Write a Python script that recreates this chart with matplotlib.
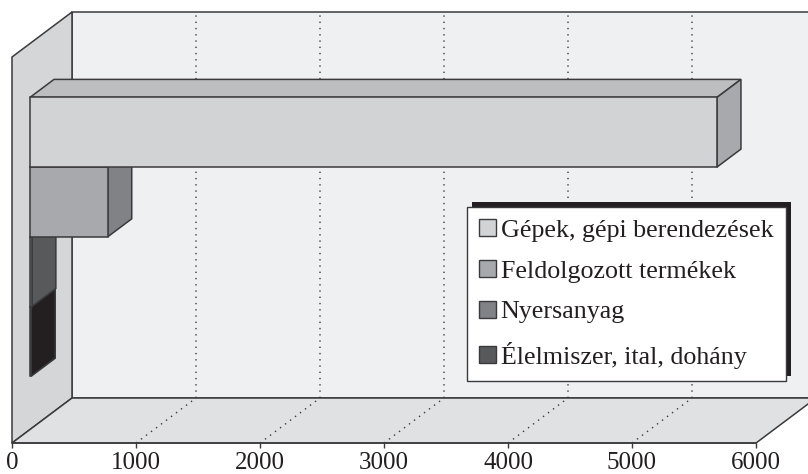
# Hungarian export structure, pseudo 3D bar chart

import matplotlib.pyplot as plt
from matplotlib.patches import Patch, Polygon

categories = [
    "Gépek, gépi berendezések",
    "Feldolgozott termékek",
    "Nyersanyag",
    "Élelmiszer, ital, dohány",
]
values = [5540, 627, 15, 10]
ticks = [0, 1000, 2000, 3000, 4000, 5000, 6000]

front_colors = ["#d1d3d4", "#a7a9ac", "#808285", "#58595b"]
side_colors = ["#a7a9ac", "#808285", "#58595b", "#231f20"]
top_colors = ["#bcbec0", "#808285", "#58595b", "#231f20"]

LINE = "#3a3a3c"
# depth of the box, in data units
DX = 60 / 0.124
DY = 45 / 69.7
FLOOR = 4.265
TOP = -1.273
BAR_FRONT = 0.3
BAR_BACK = 0.7


def project(x, y, d):
    return (x + d * DX, y - d * DY)


plt.rcParams["font.family"] = ["Liberation Serif", "DejaVu Serif"]

fig = plt.figure(figsize=(8.08, 4.74), dpi=100)
ax = fig.add_axes([0, 0, 1, 1])
ax.set_xlim(-12 / 0.124, (808 - 12) / 0.124)
ax.set_ylim((474 - 145.75) / 69.7, -145.75 / 69.7)

# Walls and floor
xmax = ticks[-1]
walls = [
    ([(0, TOP, 1), (xmax, TOP, 1), (xmax, FLOOR, 1), (0, FLOOR, 1)], "#eff0f2"),
    ([(0, TOP, 0), (0, FLOOR, 0), (0, FLOOR, 1), (0, TOP, 1)], "#d5d6d8"),
    ([(0, FLOOR, 0), (xmax, FLOOR, 0), (xmax, FLOOR, 1), (0, FLOOR, 1)], "#e0e1e3"),
]
for corners, color in walls:
    ax.add_patch(
        Polygon(
            [project(*c) for c in corners],
            facecolor=color,
            edgecolor=LINE,
            linewidth=1.1,
            zorder=1,
        )
    )

# Grid
for t in ticks[1:-1]:
    pts = [project(t, FLOOR, 0), project(t, FLOOR, 1), project(t, TOP, 1)]
    ax.plot(
        [p[0] for p in pts],
        [p[1] for p in pts],
        color=LINE,
        linewidth=1.0,
        linestyle=(0, (1, 3.5)),
        zorder=2,
    )

# Bars, lowest first so that the upper ones cover their top faces
for i in reversed(range(len(values))):
    v = values[i]
    x0, y0 = project(0, i, BAR_FRONT)
    ax.barh(
        y0,
        v,
        left=x0,
        height=1,
        color=front_colors[i],
        edgecolor=LINE,
        linewidth=1.1,
        zorder=5 + (3 - i) * 2,
    )
    top = [
        project(0, i - 0.5, BAR_FRONT),
        project(v, i - 0.5, BAR_FRONT),
        project(v, i - 0.5, BAR_BACK),
        project(0, i - 0.5, BAR_BACK),
    ]
    side = [
        project(v, i - 0.5, BAR_FRONT),
        project(v, i + 0.5, BAR_FRONT),
        project(v, i + 0.5, BAR_BACK),
        project(v, i - 0.5, BAR_BACK),
    ]
    for face, color in ((top, top_colors[i]), (side, side_colors[i])):
        ax.add_patch(
            Polygon(
                face,
                facecolor=color,
                edgecolor=LINE,
                linewidth=1.1,
                zorder=4 + (3 - i) * 2,
            )
        )

# Axis along the front edge of the floor
for name in ["left", "right", "top"]:
    ax.spines[name].set_visible(False)
ax.spines["bottom"].set_position(("data", FLOOR))
ax.spines["bottom"].set_bounds(0, xmax)
ax.spines["bottom"].set_color(LINE)
ax.spines["bottom"].set_linewidth(1.1)
ax.spines["bottom"].set_zorder(3)
ax.set_yticks([])
ax.set_xticks(ticks)
ax.tick_params(axis="x", length=3.5, width=1, color=LINE, pad=3.2, labelsize=18, labelcolor="#231f20")

handles = [Patch(facecolor=c, edgecolor=LINE, linewidth=1.0) for c in front_colors]
leg = ax.legend(
    handles,
    categories,
    loc="upper left",
    bbox_to_anchor=(467 / 808, 1 - 207 / 474),
    borderaxespad=0,
    fontsize=18.7,
    frameon=True,
    fancybox=False,
    framealpha=1,
    facecolor="white",
    edgecolor=LINE,
    handlelength=0.62,
    handleheight=0.62,
    handletextpad=0.2,
    borderpad=0.48,
    labelspacing=0.7,
    shadow={"ox": 3.6, "oy": 3.4, "facecolor": "#231f20", "edgecolor": "none", "alpha": 1},
    labelcolor="#231f20",
)
leg.set_zorder(20)

plt.savefig("out.png", dpi=100)
